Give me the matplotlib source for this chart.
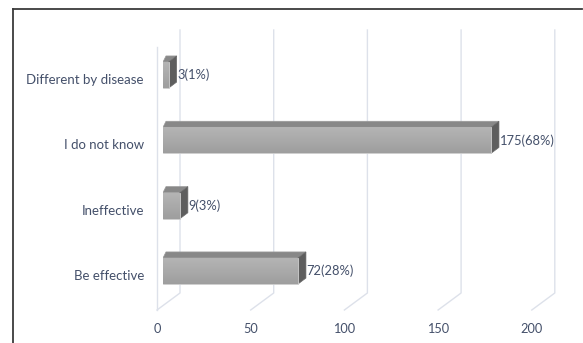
import numpy as np
import matplotlib
matplotlib.use("Agg")
import matplotlib.pyplot as plt
from matplotlib.patches import Polygon
from matplotlib.lines import Line2D
import matplotlib.transforms as mtransforms

# ---- data ----
categories = ["Be effective", "Ineffective", "I do not know", "Different by disease"]
counts = [72, 9, 175, 3]
labels = ["72(28%)", "9(3%)", "175(68%)", "3(1%)"]
xticks = [0, 50, 100, 150, 200]

W, H = 583, 343
fig = plt.figure(figsize=(W / 100, H / 100), dpi=100)
plt.rcParams['font.family'] = ['Lato', 'DejaVu Sans']

# axes: value 0 at x=163 px, 1.874 px/unit; y band 310..30 px from top
ax = fig.add_axes([163 / W, (H - 310) / H, 1.874 * 200 / W, 280 / H])
ax.set_xlim(0, 200)
ax.set_ylim(-0.597, 3.689)
ax.axis('off')

pxx = 1.874          # px per x unit
pxy = 280 / 4.286    # px per y unit
dx = 8 / pxx         # bar depth offset (data units)
dy = 6 / pxy
bh = 0.4

text_col = '#44506a'
grid_col = '#dde1ea'

# gridlines on back plane + floor diagonals (blended: x data, y axes)
blend = mtransforms.blended_transform_factory(ax.transData, ax.transAxes)
back_x = 17 / pxx
front_x = 6 / pxx
back_y = 17 / 280
for v in xticks:
    ax.add_line(Line2D([v - front_x, v + back_x, v + back_x], [0, back_y, 1.0],
                       transform=blend, color=grid_col, lw=1.0, zorder=0,
                       clip_on=False))
# front wall edge
ax.add_line(Line2D([-front_x, -front_x], [0, (310 - 47) / 280], transform=blend,
                   color=grid_col, lw=1.0, zorder=0, clip_on=False))

# x tick labels
for v in xticks:
    ax.text(v - front_x, -19 / 280, str(v), transform=blend, ha='center',
            va='center', fontsize=9.2, color=text_col)

# bars
grad = np.linspace(0, 1, 64).reshape(-1, 1)
cmap = matplotlib.colors.LinearSegmentedColormap.from_list(
    'g', ['#9e9e9e', '#aaaaaa', '#b5b5b5'])
for i, (v, lab) in enumerate(zip(counts, labels)):
    yb, yt = i - bh / 2, i + bh / 2
    # top face
    top = Polygon([(0, yt), (3 / pxx, yt + dy), (v + dx, yt + dy), (v, yt)],
                  closed=True, facecolor='#888888', edgecolor='#9a9a9a',
                  lw=0.5, zorder=3)
    ax.add_patch(top)
    # right face
    right = Polygon([(v, yb), (v + dx, yb + dy), (v + dx, yt + dy), (v, yt)],
                    closed=True, facecolor='#5e5e5e', edgecolor='#6a6a6a',
                    lw=0.5, zorder=3)
    ax.add_patch(right)
    # front face
    bars = ax.barh(i, v, height=bh, left=0, color='#a8a8a8',
                   edgecolor='#cfcfcf', lw=0.6, zorder=4)
    im = ax.imshow(grad, extent=[0, v, yb, yt], origin='lower', cmap=cmap,
                   aspect='auto', zorder=4.5, interpolation='bilinear')
    im.set_clip_path(bars.patches[0])
    # value label
    ax.text(v + dx + 0.3, i, lab, ha='left', va='center', fontsize=9.3,
            color=text_col, zorder=6)
    # category label
    ax.text(-19 / pxx, i - 0.077, categories[i], ha='right', va='center',
            fontsize=9.5, color=text_col)

ax.set_xlim(0, 200)
ax.set_ylim(-0.597, 3.689)

# outer frame (top and left edges)
fig.add_artist(Line2D([13 / W, 582 / W], [1 - 9 / H, 1 - 9 / H],
                      transform=fig.transFigure, color='#3a3a3a', lw=1.3))
fig.add_artist(Line2D([13 / W, 13 / W], [1 - 9 / H, 0],
                      transform=fig.transFigure, color='#3a3a3a', lw=1.3))

fig.savefig('out.png', dpi=100, facecolor='white')
